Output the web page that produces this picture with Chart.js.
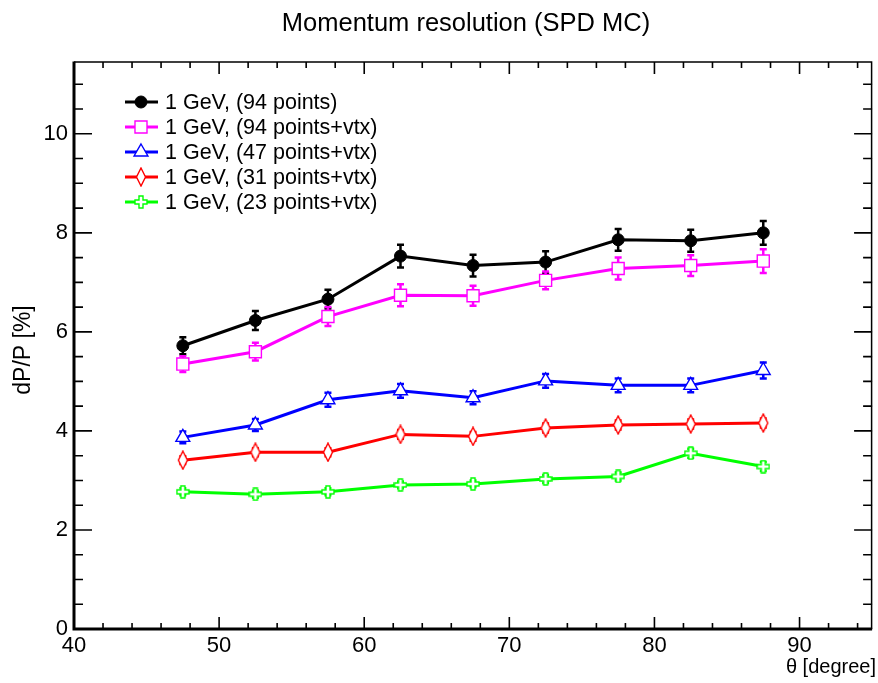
<!DOCTYPE html>
<html>
<head>
<meta charset="utf-8">
<script src="https://cdn.jsdelivr.net/npm/chart.js@4.4.1/dist/chart.umd.min.js"></script>
<style>
  html, body { margin: 0; padding: 0; background: #fff; overflow: hidden; }
  #wrap { width: 878px; height: 683px; overflow: hidden; }
</style>
</head>
<body>
<!-- canvas is a few px wider than the window: chart.js keeps ~4px right of the x axis,
     this puts the frame's right edge at the window edge like the ROOT picture -->
<div id="wrap"><canvas id="resChart" width="882" height="683"></canvas></div>
<script>
// theta bins (degree)
const theta = [47.5, 52.5, 57.5, 62.5, 67.5, 72.5, 77.5, 82.5, 87.5];

// dP/P [%] for each setup
const res94 = [5.72, 6.23, 6.66, 7.53, 7.34, 7.41, 7.86, 7.84, 8.00];
const err94 = [0.17, 0.19, 0.19, 0.23, 0.22, 0.22, 0.22, 0.22, 0.24];
const res94vtx = [5.35, 5.60, 6.31, 6.74, 6.73, 7.04, 7.28, 7.34, 7.43];
const err94vtx = [0.16, 0.18, 0.19, 0.22, 0.20, 0.18, 0.22, 0.21, 0.24];
const res47vtx = [3.87, 4.12, 4.63, 4.81, 4.67, 5.01, 4.92, 4.92, 5.22];
const err47vtx = [0.12, 0.12, 0.14, 0.14, 0.13, 0.14, 0.14, 0.14, 0.16];
const res31vtx = [3.41, 3.57, 3.57, 3.93, 3.89, 4.06, 4.12, 4.14, 4.16];
const err31vtx = [0.08, 0.08, 0.08, 0.09, 0.09, 0.09, 0.09, 0.09, 0.09];
const res23vtx = [2.77, 2.72, 2.77, 2.91, 2.93, 3.03, 3.08, 3.55, 3.28];
const err23vtx = [0.07, 0.07, 0.07, 0.07, 0.07, 0.08, 0.08, 0.09, 0.09];

const seriesNames = [
  '1 GeV, (94 points)',
  '1 GeV, (94 points+vtx)',
  '1 GeV, (47 points+vtx)',
  '1 GeV, (31 points+vtx)',
  '1 GeV, (23 points+vtx)'
];

const FONT = "'Liberation Sans', Arial, Helvetica, sans-serif";

// ROOT style open markers that chart.js does not have
function diamondMarker(color) {
  const c = document.createElement('canvas');
  c.width = 12; c.height = 20;
  const g = c.getContext('2d');
  g.beginPath();
  g.moveTo(6, 1); g.lineTo(10.5, 10); g.lineTo(6, 19); g.lineTo(1.5, 10);
  g.closePath();
  g.fillStyle = '#fff'; g.fill();
  g.strokeStyle = color; g.lineWidth = 1.4; g.stroke();
  return c;
}
function crossMarker(color) {
  const c = document.createElement('canvas');
  c.width = 14; c.height = 14;
  const g = c.getContext('2d');
  const p = [[5,1],[9,1],[9,5],[13,5],[13,9],[9,9],[9,13],[5,13],[5,9],[1,9],[1,5],[5,5]];
  g.beginPath();
  p.forEach((q, i) => i ? g.lineTo(q[0], q[1]) : g.moveTo(q[0], q[1]));
  g.closePath();
  g.fillStyle = '#fff'; g.fill();
  g.strokeStyle = color; g.lineWidth = 1.4; g.stroke();
  return c;
}

function xy(vals) {
  return theta.map((t, k) => ({ x: t, y: vals[k] }));
}

const datasets = [
  { label: seriesNames[0], data: xy(res94), errors: err94, borderColor: '#000000',
    pointStyle: 'circle', pointRadius: 6, pointBackgroundColor: '#000000', pointBorderColor: '#000000', pointBorderWidth: 1 },
  { label: seriesNames[1], data: xy(res94vtx), errors: err94vtx, borderColor: '#ff00ff',
    pointStyle: 'rect', pointRadius: 8.5, pointBackgroundColor: '#ffffff', pointBorderColor: '#ff00ff', pointBorderWidth: 1.4 },
  { label: seriesNames[2], data: xy(res47vtx), errors: err47vtx, borderColor: '#0000ff',
    pointStyle: 'triangle', pointRadius: 8, pointBackgroundColor: '#ffffff', pointBorderColor: '#0000ff', pointBorderWidth: 1.4 },
  { label: seriesNames[3], data: xy(res31vtx), errors: err31vtx, borderColor: '#ff0000',
    pointStyle: diamondMarker('#ff0000'), pointRadius: 6, pointBackgroundColor: '#ffffff', pointBorderColor: '#ff0000', pointBorderWidth: 1.4 },
  { label: seriesNames[4], data: xy(res23vtx), errors: err23vtx, borderColor: '#00ff00',
    pointStyle: crossMarker('#00ff00'), pointRadius: 6, pointBackgroundColor: '#ffffff', pointBorderColor: '#00ff00', pointBorderWidth: 1.4 }
];
datasets.forEach(d => { d.borderWidth = 3; d.tension = 0; d.fill = false; d.pointHoverRadius = d.pointRadius; });

// vertical error bars with small caps, drawn under the lines and markers
const errorBars = {
  id: 'errorBars',
  beforeDatasetsDraw(chart) {
    const ctx = chart.ctx, ys = chart.scales.y;
    chart.data.datasets.forEach((ds, i) => {
      const meta = chart.getDatasetMeta(i);
      ctx.save();
      ctx.strokeStyle = ds.borderColor;
      ctx.lineWidth = 2.5;
      meta.data.forEach((pt, j) => {
        const top = ys.getPixelForValue(ds.data[j].y + ds.errors[j]);
        const bot = ys.getPixelForValue(ds.data[j].y - ds.errors[j]);
        ctx.beginPath();
        ctx.moveTo(pt.x, top); ctx.lineTo(pt.x, bot);
        ctx.moveTo(pt.x - 3.5, top); ctx.lineTo(pt.x + 3.5, top);
        ctx.moveTo(pt.x - 3.5, bot); ctx.lineTo(pt.x + 3.5, bot);
        ctx.stroke();
      });
      ctx.restore();
    });
  }
};

// frame, inward ticks, titles and legend in ROOT look
const rootFrame = {
  id: 'rootFrame',
  afterDraw(chart) {
    const ctx = chart.ctx, a = chart.chartArea;
    const xs = chart.scales.x, ys = chart.scales.y;
    ctx.save();
    ctx.strokeStyle = '#000';
    ctx.lineWidth = 1.6;
    ctx.beginPath();
    for (let v = 40; v < 95; v += 2) {
      const px = xs.getPixelForValue(v);
      const len = v % 10 === 0 ? 12 : 6;
      ctx.moveTo(px, a.bottom); ctx.lineTo(px, a.bottom - len);
      ctx.moveTo(px, a.top); ctx.lineTo(px, a.top + len);
    }
    for (let v = 0; v <= 11; v += 0.5) {
      const py = ys.getPixelForValue(v);
      const len = v % 2 === 0 ? 18 : 9;
      ctx.moveTo(a.left, py); ctx.lineTo(a.left + len, py);
      ctx.moveTo(a.right, py); ctx.lineTo(a.right - len, py);
    }
    ctx.stroke();

    // frame
    ctx.lineWidth = 1.5;
    ctx.beginPath();
    ctx.moveTo(a.left, a.top); ctx.lineTo(a.right - 0.5, a.top); ctx.lineTo(a.right - 0.5, a.bottom);
    ctx.stroke();
    ctx.lineWidth = 3;
    ctx.beginPath();
    ctx.moveTo(a.left, a.top - 0.5); ctx.lineTo(a.left, a.bottom); ctx.lineTo(a.right, a.bottom);
    ctx.stroke();

    // titles
    ctx.fillStyle = '#000';
    ctx.textBaseline = 'middle';
    ctx.textAlign = 'center';
    ctx.font = '25.5px ' + FONT;
    ctx.fillText('Momentum resolution (SPD MC)', 466, 24);

    ctx.textAlign = 'right';
    ctx.font = '20px ' + FONT;
    ctx.fillText('\u03b8 [degree]', 876, 667);

    ctx.save();
    ctx.translate(24, 350);
    ctx.rotate(-Math.PI / 2);
    ctx.textAlign = 'center';
    ctx.font = '23px ' + FONT;
    ctx.fillText('dP/P [%]', 0, 0);
    ctx.restore();

    // legend
    ctx.font = '21.5px ' + FONT;
    ctx.textAlign = 'left';
    chart.data.datasets.forEach((ds, i) => {
      const y = 102 + 25 * i;
      ctx.strokeStyle = ds.borderColor;
      ctx.lineWidth = 3;
      ctx.beginPath();
      ctx.moveTo(125, y); ctx.lineTo(158, y);
      ctx.stroke();
      ctx.fillStyle = ds.pointBackgroundColor;
      ctx.strokeStyle = ds.pointBorderColor;
      ctx.lineWidth = ds.pointBorderWidth;
      Chart.helpers.drawPoint(ctx, {
        pointStyle: ds.pointStyle, radius: ds.pointRadius,
        rotation: 0, borderWidth: ds.pointBorderWidth
      }, 141, y);
      ctx.fillStyle = '#000';
      ctx.fillText(ds.label, 165, y + 1);
    });
    ctx.restore();
  }
};

const ctx = document.getElementById('resChart').getContext('2d');
const resChart = new Chart(ctx, {
  type: 'line',
  data: { datasets: datasets },
  options: {
    responsive: false,
    animation: false,
    layout: { padding: { top: 62, right: 1, left: 0, bottom: 0 } },
    plugins: {
      legend: { display: false },
      title: { display: false },
      tooltip: { enabled: false }
    },
    scales: {
      x: {
        type: 'linear',
        min: 40, max: 95,
        grid: { display: false, drawTicks: false },
        border: { display: false },
        ticks: { stepSize: 10, padding: 4, color: '#000', font: { family: FONT, size: 22 }, maxRotation: 0 },
        afterBuildTicks: s => { s.ticks = s.ticks.filter(t => t.value % 10 === 0); },
        afterFit: s => { s.height = 54; s.paddingLeft = 0; s.paddingRight = 0; }
      },
      y: {
        type: 'linear',
        min: 0, max: 11.45,
        grid: { display: false, drawTicks: false },
        border: { display: false },
        ticks: { stepSize: 2, padding: 6, color: '#000', font: { family: FONT, size: 22 } },
        afterBuildTicks: s => { s.ticks = s.ticks.filter(t => t.value % 2 === 0); },
        afterFit: s => { s.width = 74; s.paddingTop = 0; s.paddingBottom = 0; }
      }
    }
  },
  plugins: [errorBars, rootFrame]
});
</script>
</body>
</html>
